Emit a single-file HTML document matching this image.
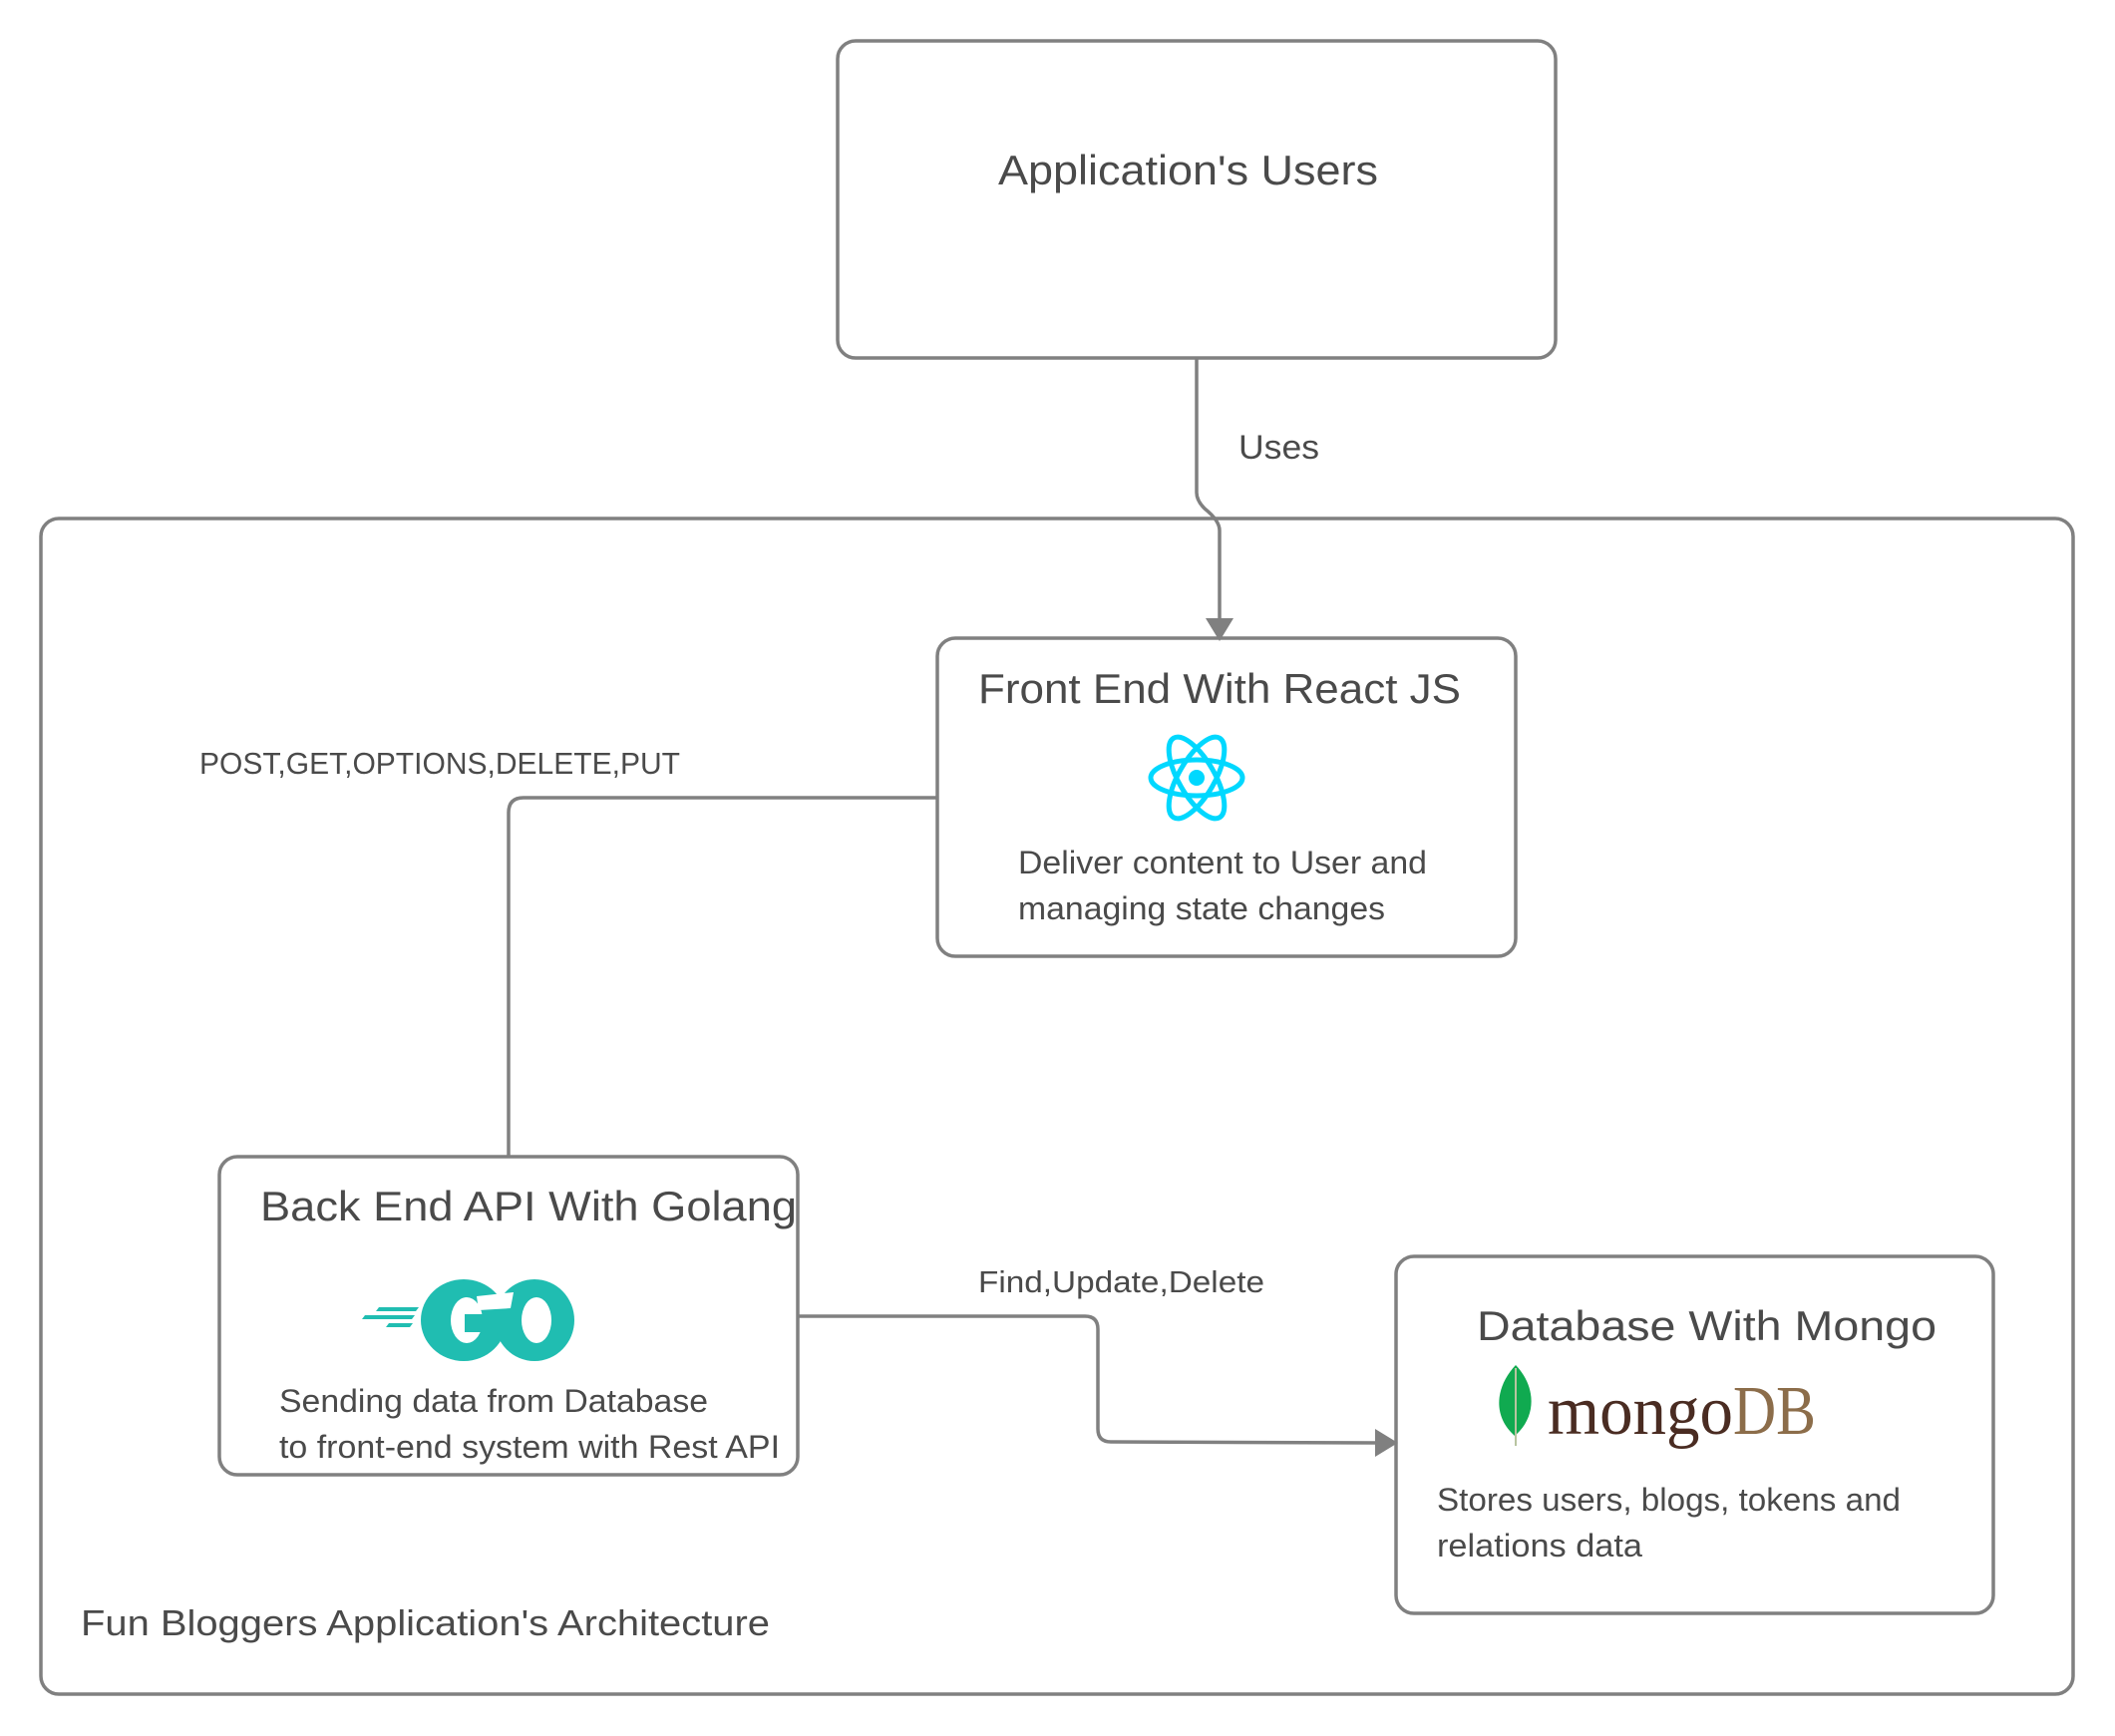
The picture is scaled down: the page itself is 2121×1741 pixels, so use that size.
<!DOCTYPE html>
<html><head><meta charset="utf-8"><style>
html,body{margin:0;padding:0;background:#fff}
svg{display:block}
text{font-family:"Liberation Sans",sans-serif;fill:#4a4a4a}
</style></head><body>
<svg width="2121" height="1741" viewBox="0 0 2121 1741" xmlns="http://www.w3.org/2000/svg">
<g fill="none" stroke="#808080" stroke-width="3.5">
<rect x="41" y="520" width="2038" height="1179" rx="18"/>
<rect x="840" y="41" width="720" height="318" rx="18"/>
<rect x="940" y="640" width="580" height="319" rx="18"/>
<rect x="220" y="1160" width="580" height="319" rx="18"/>
<rect x="1400" y="1260" width="599" height="358" rx="18"/>
<path d="M1200 359 V494 Q1200 502 1208 510 Q1223 522 1223 532 V622"/>
<path d="M939 800 H525 Q510 800 510 815 V1160"/>
<path d="M800 1320 H1088 Q1101 1320 1101 1333 V1433 Q1101 1446 1114 1446 L1382 1447"/>
</g>
<path d="M1209 620 L1237 620 L1223 643 Z" fill="#808080"/>
<path d="M1379 1433 L1379 1461 L1402 1447 Z" fill="#808080"/>

<text x="1001" y="185" font-size="42" textLength="381" lengthAdjust="spacingAndGlyphs">Application's Users</text>
<text x="1242" y="460" font-size="34" textLength="81" lengthAdjust="spacingAndGlyphs">Uses</text>
<text x="81" y="1640" font-size="36" textLength="691" lengthAdjust="spacingAndGlyphs">Fun Bloggers Application's Architecture</text>

<text x="981" y="705" font-size="42" textLength="484" lengthAdjust="spacingAndGlyphs">Front End With React JS</text>
<g fill="none" stroke="#00d8ff" stroke-width="5">
<ellipse cx="1200" cy="780" rx="46" ry="18"/>
<ellipse cx="1200" cy="780" rx="46" ry="18" transform="rotate(60 1200 780)"/>
<ellipse cx="1200" cy="780" rx="46" ry="18" transform="rotate(-60 1200 780)"/>
</g>
<circle cx="1200" cy="780" r="8" fill="#00d8ff"/>
<text x="1021" y="876" font-size="32" textLength="410" lengthAdjust="spacingAndGlyphs">Deliver content to User and</text>
<text x="1021" y="922" font-size="32" textLength="368" lengthAdjust="spacingAndGlyphs">managing state changes</text>

<text x="200" y="776" font-size="31" textLength="482" lengthAdjust="spacingAndGlyphs">POST,GET,OPTIONS,DELETE,PUT</text>

<text x="261" y="1224" font-size="42" textLength="538" lengthAdjust="spacingAndGlyphs">Back End API With Golang</text>
<g fill="#20bdb1">
<path d="M380 1311 h40 l-3 4 h-40z M366 1319 h50 l-3 4 h-50z M390 1327 h24 l-3 4 h-24z"/>
<ellipse cx="465" cy="1324" rx="43" ry="41"/>
<ellipse cx="536" cy="1324" rx="40" ry="41"/>
</g>
<g fill="#fff">
<ellipse cx="468" cy="1324" rx="16" ry="23"/>
<ellipse cx="538" cy="1324" rx="15" ry="23"/>
<path d="M478 1300 L515 1296 L512 1312 L480 1314 Z"/>
</g>
<path d="M466 1318 h32 v18 h-32z" fill="#20bdb1"/>
<text x="280" y="1416" font-size="32" textLength="430" lengthAdjust="spacingAndGlyphs">Sending data from Database</text>
<text x="280" y="1462" font-size="32" textLength="502" lengthAdjust="spacingAndGlyphs">to front-end system with Rest API</text>

<text x="981" y="1296" font-size="31" textLength="287" lengthAdjust="spacingAndGlyphs">Find,Update,Delete</text>

<text x="1481" y="1344" font-size="42" textLength="461" lengthAdjust="spacingAndGlyphs">Database With Mongo</text>
<path d="M1520 1369 C1500 1390 1496 1420 1519 1440 C1542 1420 1540 1390 1520 1369 Z" fill="#10aa50"/>
<path d="M1520 1372 V1450" stroke="#b8c4a0" stroke-width="2"/>
<text x="1552" y="1438" font-size="70" style="font-family:'Liberation Serif',serif;fill:#4a2c22" textLength="186" lengthAdjust="spacingAndGlyphs">mongo</text>
<text x="1738" y="1438" font-size="70" style="font-family:'Liberation Serif',serif;fill:#8c6d4a" textLength="83" lengthAdjust="spacingAndGlyphs">DB</text>
<text x="1441" y="1515" font-size="32" textLength="465" lengthAdjust="spacingAndGlyphs">Stores users, blogs, tokens and</text>
<text x="1441" y="1561" font-size="32" textLength="206" lengthAdjust="spacingAndGlyphs">relations data</text>
</svg>
</body></html>
